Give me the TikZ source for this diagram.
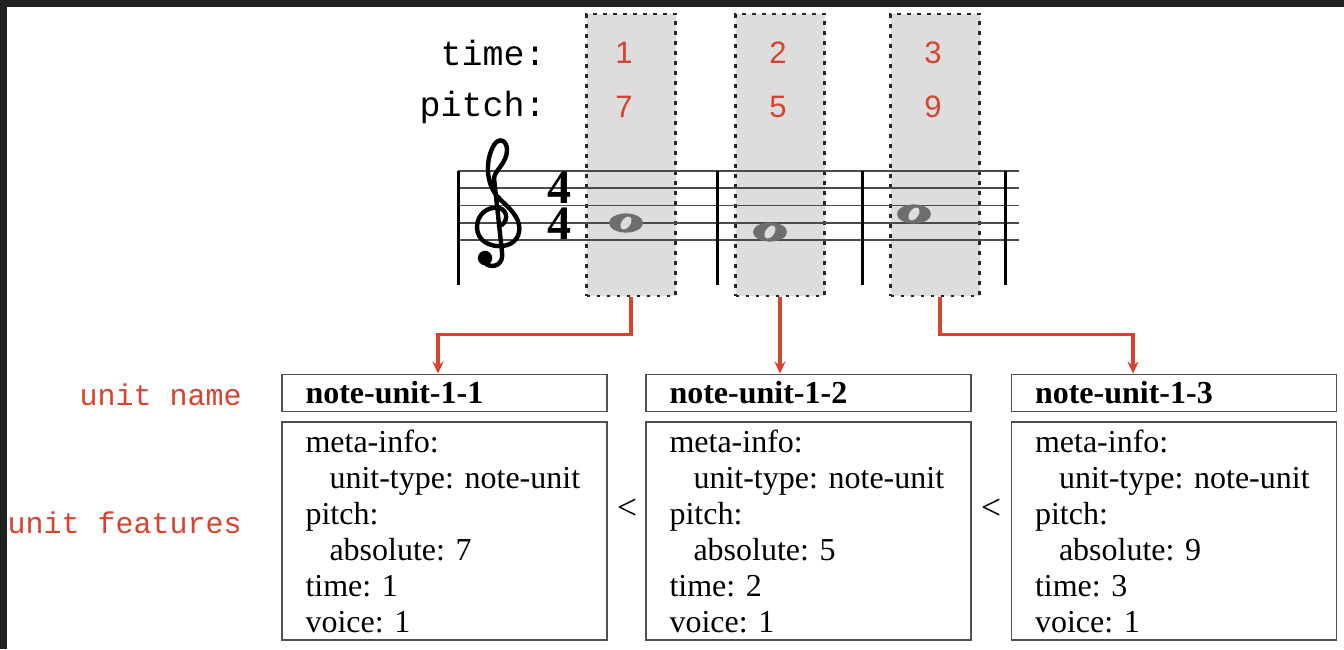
\documentclass[tikz,border=0pt]{standalone}
\usepackage{fontspec}
\setmainfont{Liberation Serif}
\newfontfamily\labelfont{Liberation Mono}
\newfontfamily\digitfont{Liberation Sans}
\usetikzlibrary{arrows.meta}
\definecolor{unitred}{HTML}{D8432E}
\definecolor{colgray}{HTML}{DDDDDD}
\definecolor{staffgray}{HTML}{4A4A4A}
\definecolor{notegray}{HTML}{6E6E6E}
\definecolor{framedark}{HTML}{202020}
\definecolor{boxgray}{HTML}{505050}
\frenchspacing

\begin{document}
\begin{tikzpicture}[x=0.5pt, y=-0.5pt, >={Stealth[length=6pt, width=5.5pt]}]
    \tikzset{
        colbox/.style    = {draw=black!85, fill=colgray, line width=1.1pt, dash pattern=on 1.8pt off 3.2pt,
                            minimum width=44.5pt, minimum height=141pt, inner sep=0pt},
        namebox/.style   = {draw=boxgray, line width=0.9pt, minimum width=162.5pt, minimum height=18.5pt,
                            text width=139pt, inner xsep=11.75pt, inner ysep=0pt, align=left,
                            font=\fontsize{16}{18}\selectfont\bfseries},
        featbox/.style   = {draw=boxgray, line width=0.9pt, minimum width=162.5pt, minimum height=109pt,
                            text width=139pt, inner xsep=11.75pt, inner ysep=0pt, align=left,
                            font=\fontsize{16}{18}\selectfont},
        rowlabel/.style  = {anchor=east, inner sep=0pt, text=unitred, font=\labelfont\fontsize{15}{15}\selectfont},
        axislabel/.style = {anchor=east, inner sep=0pt, font=\labelfont\fontsize{17.5}{17.5}\selectfont},
        value/.style     = {inner sep=0pt, text=unitred, font=\digitfont\fontsize{15.5}{15.5}\selectfont},
        timesig/.style   = {inner sep=0pt, align=center, font=\fontsize{24}{18}\selectfont\bfseries},
        less/.style      = {inner sep=0pt, font=\fontsize{18}{18}\selectfont},
        flow/.style      = {->, draw=unitred, line width=1.6pt},
        staffline/.style = {draw=staffgray, line width=0.8pt},
        barline/.style   = {draw=black, line width=1.5pt}
    }
    % frame
    \fill[framedark] (0,0) rectangle (1344,649);
    \fill[white] (7,7) rectangle (1344,649);
    \useasboundingbox (0,0) rectangle (1344,649);

    % highlighted columns
    \node[colbox] (col1) at (631,155) {};
    \node[colbox] (col2) at (780,155) {};
    \node[colbox] (col3) at (935,155) {};

    \node[axislabel] (time) at (546,53) {time:};
    \node[axislabel] (pitch) at (546,107) {pitch:};
    \node[value] (t1) at (624,53) {1};
    \node[value] (t2) at (778,53) {2};
    \node[value] (t3) at (933,53) {3};
    \node[value] (p1) at (624,107) {7};
    \node[value] (p2) at (778,107) {5};
    \node[value] (p3) at (933,107) {9};

    % staff
    \foreach \y in {171,188.25,205.5,222.75,240}
        \draw[staffline] (458,\y) -- (1019,\y);
    \foreach \x in {458,717,862,1005}
        \draw[barline] (\x,171) -- (\x,285);

    % treble clef
    \draw[line width=2.2pt, line cap=round]
        (499,226) .. controls (508,224) and (509,210) .. (499,208)
        .. controls (487,206) and (477,215) .. (477,227)
        .. controls (477,241) and (490,247) .. (502,246)
        .. controls (515,245) and (521,235) .. (519,225)
        .. controls (517,213) and (505,205) .. (497,196)
        .. controls (486,183) and (485,160) .. (494,145)
        .. controls (499,137) and (507,140) .. (507,150)
        .. controls (507,163) and (495,170) .. (494,178)
        -- (502,252)
        .. controls (504,264) and (494,269) .. (486,264);
    \fill (485,258) circle (3.6pt);
    \node[timesig] (meter) at (559,206) {4\\4};

    % whole notes
    \foreach \x/\y in {626/223, 770/232, 914/214} {
        \fill[notegray] (\x,\y) ellipse [x radius=8.5pt, y radius=4.8pt];
        \fill[colgray, rotate around={-35:(\x,\y)}] (\x,\y) ellipse [x radius=2.2pt, y radius=3.6pt];
    }

    % units
    \node[rowlabel] (namelabel) at (242,395) {unit name};
    \node[rowlabel] (featlabel) at (242,523) {unit features};

    \node[namebox] (name1) at (444.5,393) {note-unit-1-1};
    \node[namebox] (name2) at (808.5,393) {note-unit-1-2};
    \node[namebox] (name3) at (1174,393) {note-unit-1-3};

    \node[featbox] (feat1) at (444.5,531) {meta-info:\\\hspace*{12pt}unit-type: note-unit\\pitch:\\\hspace*{12pt}absolute: 7\\time: 1\\voice: 1};
    \node[featbox] (feat2) at (808.5,531) {meta-info:\\\hspace*{12pt}unit-type: note-unit\\pitch:\\\hspace*{12pt}absolute: 5\\time: 2\\voice: 1};
    \node[featbox] (feat3) at (1174,531) {meta-info:\\\hspace*{12pt}unit-type: note-unit\\pitch:\\\hspace*{12pt}absolute: 9\\time: 3\\voice: 1};

    \node[less] (lt1) at (627,509) {<};
    \node[less] (lt2) at (991,509) {<};

    \draw[flow] (col1.south) -- ++(0,37) -| ([xshift=-3.25pt]name1.north);
    \draw[flow] (col2.south) -- (col2.south |- name2.north);
    \draw[flow] ([xshift=2.5pt]col3.south) -- ++(0,37) -| ([xshift=-20.5pt]name3.north);
\end{tikzpicture}
\end{document}
